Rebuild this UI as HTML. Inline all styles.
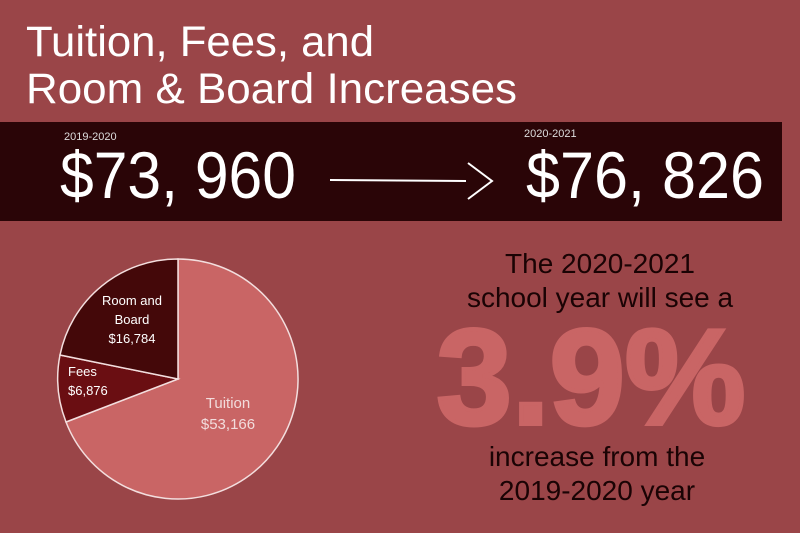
<!DOCTYPE html>
<html><head><style>
body{margin:0;width:800px;height:533px;background:#9a4548;position:relative;overflow:hidden;font-family:"Liberation Sans",sans-serif}
.a{position:absolute;white-space:nowrap}
</style></head><body>
<div class="a" style="left:0;top:122px;width:782px;height:99px;background:#2a0507"></div>
<svg class="a" style="left:0;top:0" width="800" height="533">
<g fill="#fff" font-family="Liberation Sans,sans-serif" font-size="43">
<text x="26" y="56" textLength="348" lengthAdjust="spacingAndGlyphs">Tuition, Fees, and</text>
<text x="26" y="103" textLength="491" lengthAdjust="spacingAndGlyphs">Room &amp; Board Increases</text>
</g>
<g fill="#ddd" font-family="Liberation Sans,sans-serif" font-size="11">
<text x="64" y="140">2019-2020</text><text x="524" y="137">2020-2021</text>
</g>
<g fill="#fff" font-family="Liberation Sans,sans-serif" font-size="66">
<text x="60" y="198" textLength="236" lengthAdjust="spacingAndGlyphs">$73, 960</text>
<text x="526" y="198" textLength="238" lengthAdjust="spacingAndGlyphs">$76, 826</text>
</g>
<line x1="330" y1="180" x2="466" y2="181" stroke="#fff" stroke-width="2"/>
<polyline points="468,163 492,181 468,199" fill="none" stroke="#fff" stroke-width="2"/>
<path d="M178,379 L178,259 A120,120 0 1 1 66,422 Z" fill="#c96565" stroke="#f3dede" stroke-width="1.5"/>
<path d="M178,379 L66,422 A120,120 0 0 1 60,355 Z" fill="#6a0e12" stroke="#f3dede" stroke-width="1.5"/>
<path d="M178,379 L60,355 A120,120 0 0 1 178,259 Z" fill="#440809" stroke="#f3dede" stroke-width="1.5"/>
<g fill="#fff" font-family="Liberation Sans,sans-serif" font-size="13" text-anchor="middle">
<text x="132" y="305">Room and</text><text x="132" y="324">Board</text><text x="132" y="343">$16,784</text>
<text x="68" y="376" text-anchor="start">Fees</text><text x="68" y="395" text-anchor="start">$6,876</text>
</g>
<g fill="#f2dcdc" font-family="Liberation Sans,sans-serif" font-size="15" text-anchor="middle">
<text x="228" y="408">Tuition</text><text x="228" y="429">$53,166</text>
</g>
<g font-family="Liberation Sans,sans-serif" text-anchor="middle" font-size="28" fill="#1a0304">
<text x="600" y="273">The 2020-2021</text>
<text x="600" y="307">school year will see a</text>
<text x="597" y="466">increase from the</text>
<text x="597" y="500">2019-2020 year</text>
</g>
<text x="591" y="424" text-anchor="middle" font-family="Liberation Sans,sans-serif" font-weight="bold" font-size="136" fill="#c96565" stroke="#c96565" stroke-width="4" textLength="309" lengthAdjust="spacingAndGlyphs">3.9%</text>
</svg>
</body></html>
